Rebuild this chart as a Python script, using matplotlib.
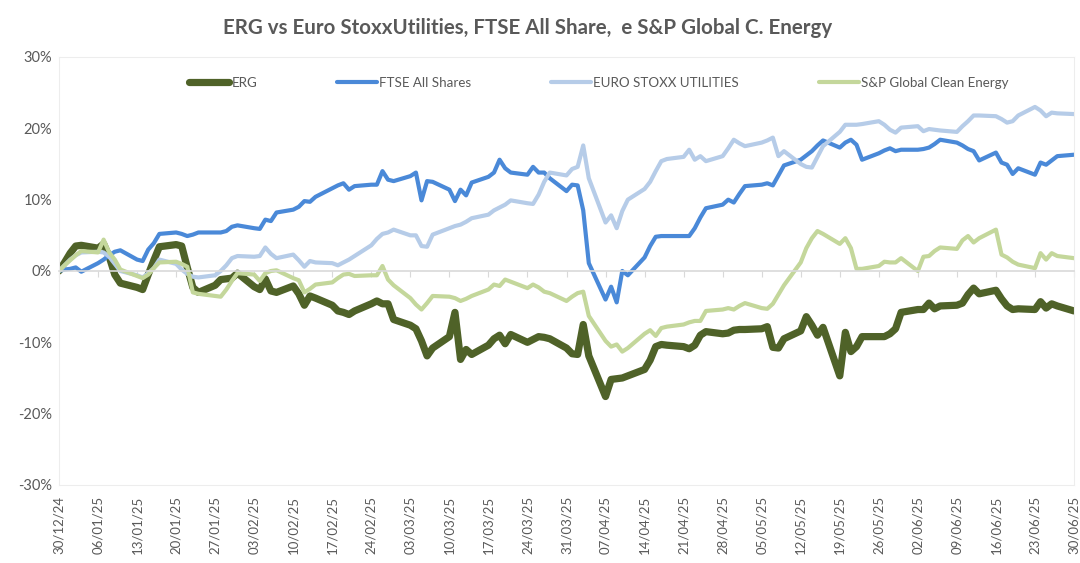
import pandas as pd
import matplotlib
matplotlib.use('Agg')
import matplotlib.pyplot as plt
import matplotlib.dates as mdates
from matplotlib.ticker import FuncFormatter

plt.rcParams['font.family'] = ['Lato', 'DejaVu Sans']

# trading days, one value per day (% change since 30/12/24)
dates = pd.bdate_range('2024-12-30', '2025-06-30')

erg = [0, 1.2, 2.5, 3.5, 3.6,
       3.2, 3.8, 2.0, -0.5, -1.7,
       -2.3, -2.6, -0.5, 1.5, 3.4,
       3.7, 3.5, 0.5, -2.3, -3.0,
       -2.0, -1.2, -1.1, -1.0, -0.3,
       -2.2, -2.6, -1.1, -2.8, -3.0,
       -2.1, -3.2, -4.8, -3.5, -3.8,
       -4.8, -5.6, -5.8, -6.1, -5.6,
       -4.6, -4.2, -4.6, -4.6, -6.8,
       -7.6, -8.1, -9.8, -11.9, -10.8,
       -9.2, -5.8, -12.4, -11.0, -11.7,
       -10.4, -9.5, -9.0, -10.2, -8.9,
       -10.0, -9.6, -9.2, -9.3, -9.5,
       -10.8, -11.6, -11.7, -7.5, -11.9,
       -17.6, -15.2, -15.1, -15.0, -14.7,
       -13.8, -12.5, -10.6, -10.3, -10.4,
       -10.6, -10.9, -10.4, -9.0, -8.5,
       -8.8, -8.7, -8.3, -8.2, -8.2,
       -8.1, -7.8, -10.7, -10.8, -9.5,
       -8.4, -6.4, -7.6, -9.0, -7.9,
       -14.7, -8.6, -11.3, -10.6, -9.2,
       -9.2, -9.2, -8.8, -8.1, -5.8,
       -5.4, -5.4, -4.5, -5.3, -4.9,
       -4.8, -4.5, -3.3, -2.4, -3.2,
       -2.7, -3.9, -4.9, -5.4, -5.3,
       -5.4, -4.3, -5.2, -4.6, -4.9,
       -5.6]

ftse = [0, 0.2, 0.3, 0.5, -0.1,
        1.1, 1.6, 2.2, 2.7, 2.9,
        1.6, 1.4, 3.0, 3.9, 5.2,
        5.4, 5.2, 4.9, 5.1, 5.4,
        5.4, 5.4, 5.6, 6.2, 6.4,
        6.0, 5.9, 7.2, 7.0, 8.2,
        8.6, 9.0, 9.8, 9.7, 10.4,
        11.6, 12.0, 12.3, 11.4, 11.9,
        12.1, 12.1, 14.0, 12.8, 12.6,
        13.3, 13.8, 9.9, 12.6, 12.5,
        11.4, 9.8, 11.4, 10.6, 12.4,
        13.2, 13.8, 15.6, 14.4, 13.8,
        13.5, 14.6, 13.8, 13.8, 13.0,
        11.2, 12.1, 12.0, 8.5, 1.1,
        -4.0, -2.2, -4.4, 0.0, -0.6,
        1.9, 3.5, 4.8, 4.9, 4.9,
        4.9, 4.9, 6.0, 7.5, 8.8,
        9.3, 10.0, 9.6, 10.8, 11.9,
        12.1, 12.3, 12.0, 13.4, 14.8,
        15.6, 16.2, 16.8, 17.6, 18.3,
        17.3, 18.0, 18.4, 17.7, 15.6,
        16.5, 16.9, 17.2, 16.8, 17.0,
        17.0, 17.1, 17.3, 17.8, 18.4,
        18.0, 17.6, 17.1, 16.8, 15.5,
        16.6, 15.2, 14.9, 13.6, 14.4,
        13.5, 15.2, 14.9, 15.5, 16.1,
        16.3]

stoxx_util = [0, 0.8, 1.6, 2.2, 2.6,
              2.7, 2.6, 2.0, 1.0, 0.0,
              -0.6, -0.9, -0.3, 0.4, 1.6,
              1.0, 0.2, -0.4, -0.8, -0.9,
              -0.6, 0.0, 0.8, 1.8, 2.1,
              2.0, 2.1, 3.3, 2.4, 1.8,
              2.3, 1.5, 0.6, 1.4, 1.2,
              1.1, 0.8, 1.2, 1.6, 2.1,
              3.6, 4.5, 5.2, 5.4, 5.8,
              5.0, 5.0, 3.5, 3.4, 5.1,
              6.0, 6.3, 6.5, 6.9, 7.4,
              7.9, 8.5, 8.9, 9.3, 9.9,
              9.5, 9.4, 10.7, 12.5, 13.8,
              13.4, 14.3, 14.6, 17.6, 13.0,
              6.8, 7.8, 6.0, 8.4, 10.0,
              11.5, 12.5, 14.0, 15.4, 15.7,
              16.0, 17.0, 15.6, 16.1, 15.4,
              16.1, 17.2, 18.4, 17.9, 17.5,
              18.0, 18.3, 18.7, 16.1, 16.8,
              15.0, 14.6, 14.5, 16.0, 17.5,
              19.5, 20.5, 20.5, 20.5, 20.6,
              21.0, 20.5, 19.8, 19.4, 20.1,
              20.3, 19.6, 19.9, 19.8, 19.7,
              19.5, 20.3, 21.0, 21.8, 21.8,
              21.7, 21.3, 20.8, 21.0, 21.8,
              23.0, 22.5, 21.7, 22.2, 22.1,
              22.0]

sp_clean = [0, 0.8, 1.5, 2.2, 2.8,
            2.6, 4.4, 2.6, 1.6, 0.2,
            -0.7, -1.0, -0.5, 0.4, 1.2,
            1.3, 1.0, 0.6, -3.0, -3.2,
            -3.5, -3.6, -2.6, -1.4, -0.3,
            -0.5, -1.4, -0.3, 0.0, 0.1,
            -1.0, -1.3, -3.0, -2.5, -1.9,
            -1.6, -1.0, -0.5, -0.4, -0.7,
            -0.6, -0.6, 0.7, -1.2, -2.0,
            -3.8, -4.7, -5.4, -4.5, -3.5,
            -3.6, -3.8, -4.2, -3.9, -3.5,
            -2.6, -1.9, -2.1, -1.2, -1.5,
            -2.4, -1.9, -2.3, -2.9, -3.1,
            -4.2, -3.6, -3.1, -2.9, -6.3,
            -9.8, -10.6, -10.3, -11.3, -10.8,
            -8.8, -8.3, -9.1, -8.0, -7.8,
            -7.5, -7.2, -7.0, -7.0, -5.6,
            -5.4, -5.2, -5.4, -4.9, -4.5,
            -5.2, -5.3, -4.6, -3.3, -2.0,
            1.2, 3.2, 4.6, 5.6, 5.2,
            3.8, 4.6, 3.2, 0.3, 0.3,
            0.7, 1.3, 1.2, 1.2, 1.8,
            0.0, 2.0, 2.1, 2.8, 3.3,
            3.1, 4.3, 4.9, 4.0, 4.6,
            5.8, 2.3, 1.9, 1.3, 0.9,
            0.4, 2.5, 1.6, 2.5, 2.1,
            1.8]

names = ["ERG", "FTSE All Shares", "EURO STOXX UTILITIES", "S&P Global Clean Energy"]
colors = ["#4F6228", "#4A89D8", "#B6CCE8", "#C4D79B"]
widths = [5.2, 3.0, 3.0, 3.0]
title = "ERG vs Euro StoxxUtilities, FTSE All Share,  e S&P Global C. Energy"
grey = "#595959"

fig = plt.figure(figsize=(10.8, 5.63), dpi=100)
ax = fig.add_axes([59 / 1080, 1 - 485 / 563, 1015 / 1080, 428 / 563])

for name, vals, col, lw in zip(names, [erg, ftse, stoxx_util, sp_clean], colors, widths):
    ax.plot(dates, vals, color=col, lw=lw, label=name,
            solid_joinstyle='round', solid_capstyle='round')

ax.set_xlim(dates[0], dates[-1])
ax.set_ylim(-30, 30)
ax.set_yticks(range(-30, 31, 10))
ax.yaxis.set_major_formatter(FuncFormatter(lambda v, p: f"{v:.0f}%"))
ax.tick_params(axis='y', length=0, labelsize=10.5, labelcolor=grey, pad=5)

# horizontal axis line crosses at 0 with weekly tick marks
weekly = mdates.WeekdayLocator(byweekday=mdates.MO)
ax.xaxis.set_major_locator(weekly)
ax.spines['bottom'].set_position(('data', 0))
ax.spines['bottom'].set_color('#D9D9D9')
ax.spines['bottom'].set_linewidth(1.2)
ax.tick_params(axis='x', direction='out', length=4, color='#D9D9D9', labelbottom=False)
for side in ['left', 'right', 'top']:
    ax.spines[side].set_color('#EDEDED')

# date labels at the bottom of the plot area
sec = ax.secondary_xaxis('bottom')
sec.xaxis.set_major_locator(mdates.WeekdayLocator(byweekday=mdates.MO))
sec.xaxis.set_major_formatter(mdates.DateFormatter('%d/%m/%y'))
sec.tick_params(axis='x', length=0, rotation=90, labelsize=9.5, labelcolor=grey, pad=8)
sec.spines['bottom'].set_color('#EDEDED')

ax.legend(loc='center', bbox_to_anchor=(0.532, 0.94), ncol=4, frameon=False,
          fontsize=9.6, handlelength=3.0, handletextpad=0.15, columnspacing=6.0,
          labelcolor=grey)

fig.text(528 / 1080, 1 - 28 / 563, title, ha='center', va='center',
         fontsize=14.8, fontweight='bold', color=grey)

fig.savefig('out.png', dpi=100)
